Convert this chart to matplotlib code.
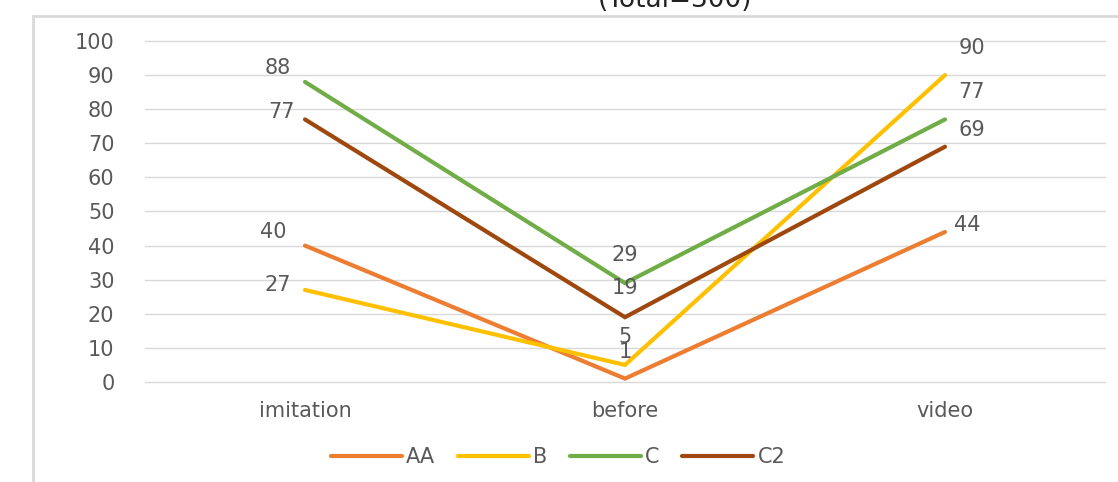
import matplotlib.pyplot as plt
from matplotlib.patches import Rectangle

categories = ['imitation', 'before', 'video']
aa_vals = [40, 1, 44]
b_vals = [27, 5, 90]
c_vals = [88, 29, 77]
c2_vals = [77, 19, 69]
series_names = ['AA', 'B', 'C', 'C2']
yticks = [0, 10, 20, 30, 40, 50, 60, 70, 80, 90, 100]

colors = ['#ED7D31', '#FFC000', '#70AD47', '#9E480E']
# label offsets in pixels per series, per category
offsets = [
	[(-32, 14), (0, 27), (22, 7)],
	[(-27, 5), (0, 28), (27, 27)],
	[(-27, 14), (0, 28), (27, 27)],
	[(-24, 7), (0, 29), (27, 17)],
]


def makePlot():
	dpi = 100
	W, H = 1118, 482
	fig = plt.figure(dpi=dpi, figsize=(W / dpi, H / dpi))
	plt.rcParams['font.family'] = ['DejaVu Sans']
	grey = '#595959'
	fs = 15

	# outer chart frame (cut off on right / bottom)
	fig.patches.append(Rectangle((33 / W, -0.1), 1.2, 1 - 16 / H + 0.1,
		transform=fig.transFigure, fill=False, edgecolor='#D9D9D9', lw=2))

	# partially visible title
	fig.text(752 / W, 1 - 7 / H, '(Total=300)', ha='right', va='baseline',
		fontsize=19, color='#222222')

	ax = fig.add_axes([145 / W, 1 - 382 / H, (1105 - 145) / W, (382 - 41) / H])
	ax.set_xlim(-0.5, 2.5)
	ax.set_ylim(0, 100)
	ax.set_yticks(yticks)
	ax.set_xticks(range(len(categories)))
	ax.set_xticklabels(categories)
	for s in ax.spines.values():
		s.set_visible(False)
	ax.grid(axis='y', color='#D9D9D9', lw=1)
	for g in ax.yaxis.get_gridlines():
		g.set_clip_on(False)
	ax.set_axisbelow(True)
	ax.tick_params(length=0, labelsize=fs, labelcolor=grey)
	ax.tick_params(axis='y', pad=22)
	ax.tick_params(axis='x', pad=14)

	all_vals = [aa_vals, b_vals, c_vals, c2_vals]
	xs = list(range(len(categories)))
	for i, vals in enumerate(all_vals):
		ax.plot(xs, vals, color=colors[i], lw=3, label=series_names[i],
			clip_on=False, solid_capstyle='round', solid_joinstyle='miter')
		for j, v in enumerate(vals):
			ax.annotate(str(v), (xs[j], v), xytext=offsets[i][j],
				textcoords='offset pixels', ha='center', va='center',
				fontsize=fs, color=grey)

	fig.legend(loc='center', bbox_to_anchor=(558 / W, 1 - 457 / H), ncol=4,
		frameon=False, fontsize=fs, labelcolor=grey, handlelength=3.4,
		handletextpad=0.2, columnspacing=1.1)

	fig.savefig('out.png', dpi=dpi)


makePlot()
